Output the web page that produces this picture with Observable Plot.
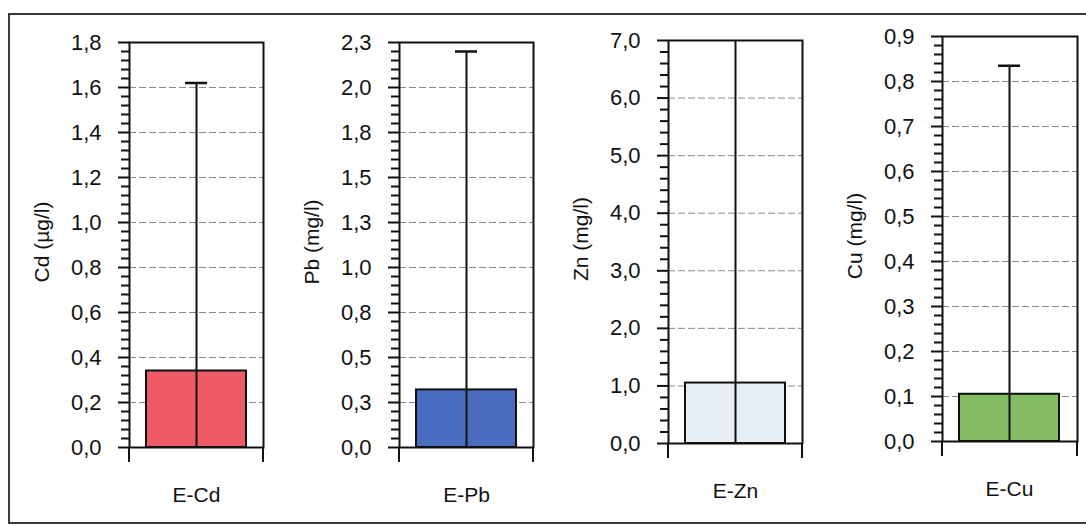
<!DOCTYPE html>
<html>
<head>
<meta charset="utf-8">
<script src="https://cdn.jsdelivr.net/npm/d3@7"></script>
<script src="https://cdn.jsdelivr.net/npm/@observablehq/plot@0.6"></script>
<style>
  html, body { margin: 0; padding: 0; background: #fff; }
  #chart { position: relative; width: 1086px; height: 526px; overflow: hidden; background: #fff; }
  #border { position: absolute; left: 8px; top: 13px; width: 1110px; height: 507px; border: 2px solid #3a3a3a; }
  .panel { position: absolute; top: 0; }
</style>
</head>
<body>
<div id="chart"><div id="border"></div></div>
<script>
// Mean concentration per element, with standard deviation
const elements   = ["E-Cd", "E-Pb", "E-Zn", "E-Cu"];
const axisTitles = ["Cd (µg/l)", "Pb (mg/l)", "Zn (mg/l)", "Cu (mg/l)"];
const means      = [0.34, 0.32, 1.05, 0.105];
const sds        = [1.28, 1.88, 6.10, 0.73];

// Major tick values of each value axis
const cdTicks = [0, 0.2, 0.4, 0.6, 0.8, 1.0, 1.2, 1.4, 1.6, 1.8];
const pbTicks = [0, 0.25, 0.5, 0.75, 1.0, 1.25, 1.5, 1.75, 2.0, 2.25];
const znTicks = [0, 1, 2, 3, 4, 5, 6, 7];
const cuTicks = [0, 0.1, 0.2, 0.3, 0.4, 0.5, 0.6, 0.7, 0.8, 0.9];
const tickSets = [cdTicks, pbTicks, znTicks, cuTicks];

// Bar fills
const barColors = ["#ee5a65", "#4a6cbf", "#e7eff4", "#84bc63"];

// Panel placement on the page
const layout = [
  {left: 9,   top: 42, zero: 447, width: 134},
  {left: 279, top: 42, zero: 447, width: 134},
  {left: 548, top: 40, zero: 443, width: 134},
  {left: 822, top: 36, zero: 441, width: 135}
];

const H = 526, ML = 120, MR = 14;
const fmt = d => d.toFixed(1).replace(".", ",");

// Short category tick marks hanging below the baseline at both frame edges
const categoryEdges = (index, scales, values, dims) => {
  const g = d3.create("svg:g").attr("stroke", "#111").attr("stroke-width", 2);
  const y0 = dims.height - dims.marginBottom;
  for (const x of [dims.marginLeft, dims.width - dims.marginRight]) {
    g.append("line").attr("x1", x).attr("x2", x).attr("y1", y0).attr("y2", y0 + 15);
  }
  return g.node();
};

elements.forEach((el, i) => {
  const L = layout[i];
  const ticks = tickSets[i];
  const max = ticks[ticks.length - 1];
  const step = ticks[1] - ticks[0];
  // four minor ticks between consecutive major ticks
  const minor = d3.range(0, max + step / 10, step / 5).filter(v => !ticks.some(t => Math.abs(t - v) < step / 100));
  const row = [{el, mean: means[i], sd: sds[i]}];

  const chart = Plot.plot({
    width: ML + L.width + MR,
    height: H,
    marginLeft: ML,
    marginRight: MR,
    marginTop: L.top,
    marginBottom: H - L.zero,
    style: {fontFamily: "'Liberation Sans', Arial, sans-serif", fontSize: "21px", color: "#111", background: "transparent", overflow: "visible"},
    x: {type: "band", domain: [el], padding: 0.145},
    y: {domain: [0, max]},
    marks: [
      Plot.gridY(ticks.filter(t => t > 0 && t < max), {stroke: "#8a8a8a", strokeOpacity: 1, strokeWidth: 1, strokeDasharray: "7,3"}),
      Plot.barY(row, {x: "el", y: "mean", fill: barColors[i], stroke: "#111", strokeWidth: 2}),
      Plot.ruleX(row, {x: "el", y1: d => Math.max(0, d.mean - d.sd), y2: d => d.mean + d.sd, stroke: "#111", strokeWidth: 2, clip: true}),
      Plot.tickY(row, {x: "el", y: d => d.mean + d.sd, insetLeft: 39, insetRight: 39, stroke: "#111", strokeWidth: 2.5, clip: true}),
      Plot.frame({stroke: "#111", strokeWidth: 2}),
      // minor ticks: short marks just outside the value axis
      Plot.tickY(minor, {y: d => d, insetLeft: -8, insetRight: L.width, stroke: "#111", strokeWidth: 2}),
      Plot.axisY({ticks, tickSize: 11, tickPadding: 17, tickFormat: fmt, stroke: "#111", strokeWidth: 2, fontSize: 22, label: null}),
      Plot.axisX({tickSize: 0, tickPadding: 40, fontSize: 21, label: null}),
      Plot.text([axisTitles[i]], {text: d => d, frameAnchor: "left", dx: -87, dy: -3, rotate: -90, textAnchor: "middle", fontSize: 21}),
      categoryEdges
    ]
  });
  chart.classList.add("panel");
  chart.style.left = L.left + "px";
  chart.style.position = "absolute";
  document.getElementById("chart").appendChild(chart);
});
</script>
</body>
</html>
